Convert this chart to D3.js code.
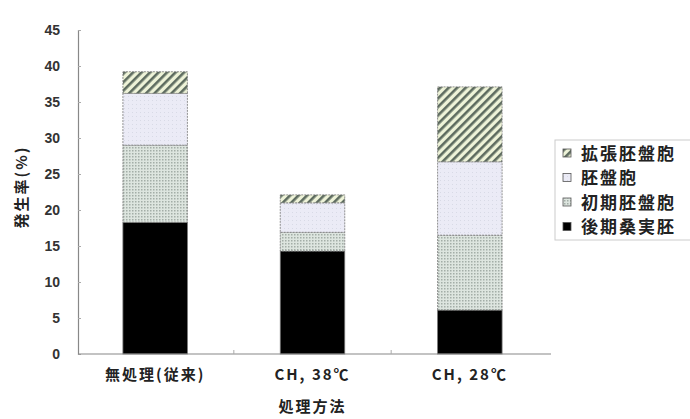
<!DOCTYPE html>
<html><head><meta charset="utf-8">
<script src="https://cdn.jsdelivr.net/npm/d3@7"></script>
<style>body{margin:0;background:#fff;}svg{display:block;font-family:"Noto Sans CJK JP","Noto Sans",sans-serif;}</style>
</head><body><svg id="c" width="690" height="419"></svg>
<script>
const categories = ["無処理(従来)", "CH, 38℃", "CH, 28℃"];
const seriesNames = ["後期桑実胚", "初期胚盤胞", "胚盤胞", "拡張胚盤胞"];
const lateMorula = [18.3, 14.3, 6.1];
const earlyBlast = [10.7, 2.6, 10.4];
const blastocyst = [7.2, 4.1, 10.2];
const expanded = [3.0, 1.1, 10.4];
const yTicks = [0, 5, 10, 15, 20, 25, 30, 35, 40, 45];
const legendOrder = ["拡張胚盤胞", "胚盤胞", "初期胚盤胞", "後期桑実胚"];

const svg = d3.select("#c");
const defs = svg.append("defs");
const pDot = defs.append("pattern").attr("id","dot").attr("width",3).attr("height",3).attr("patternUnits","userSpaceOnUse");
pDot.append("rect").attr("width",3).attr("height",3).attr("fill","#dde5df");
pDot.append("rect").attr("width",1.5).attr("height",1.5).attr("fill","#a3aea7");
const pLav = defs.append("pattern").attr("id","lav").attr("width",4).attr("height",4).attr("patternUnits","userSpaceOnUse");
pLav.append("rect").attr("width",4).attr("height",4).attr("fill","#ebebf6");
pLav.append("rect").attr("width",1).attr("height",1).attr("fill","#d8dae6");
const pHatch = defs.append("pattern").attr("id","hatch").attr("width",6).attr("height",6).attr("patternUnits","userSpaceOnUse").attr("patternTransform","rotate(45)");
pHatch.append("rect").attr("width",6).attr("height",6).attr("fill","#eef3d8");
pHatch.append("rect").attr("width",2.6).attr("height",6).attr("fill","#5d6b5f");

const fills = {"後期桑実胚":"#000","初期胚盤胞":"url(#dot)","胚盤胞":"url(#lav)","拡張胚盤胞":"url(#hatch)"};

const x0 = 78, x1 = 551, yTop = 30, yBot = 354;
const x = d3.scaleBand().domain(categories).range([76.5, 548.5]).paddingInner(0.59).paddingOuter(0.295);
const y = d3.scaleLinear().domain([0,45]).range([yBot, yTop]);

const rows = categories.map((c,i)=>({cat:c,"後期桑実胚":lateMorula[i],"初期胚盤胞":earlyBlast[i],"胚盤胞":blastocyst[i],"拡張胚盤胞":expanded[i]}));
const stack = d3.stack().keys(seriesNames)(rows);

const g = svg.append("g");
stack.forEach(s=>{
  g.selectAll(null).data(s).join("rect")
   .attr("x", d=>x(d.data.cat)).attr("width", x.bandwidth())
   .attr("y", d=>y(d[1])).attr("height", d=>y(d[0])-y(d[1]))
   .attr("fill", fills[s.key]).attr("stroke","#777").attr("stroke-width",0.8)
   .attr("stroke-dasharray", s.key==="後期桑実胚"?null:"2,1");
});

const ya = svg.append("g").attr("transform",`translate(${x0},0)`)
  .call(d3.axisLeft(y).tickValues(yTicks).tickSize(-3).tickPadding(18));
ya.select(".domain").attr("stroke","#888").attr("stroke-width",1.2);
ya.selectAll(".tick line").attr("stroke","#aaa");
ya.selectAll("text").attr("font-size",14).attr("font-weight",700).attr("fill","#333");

svg.append("line").attr("x1",x0).attr("x2",x1).attr("y1",yBot).attr("y2",yBot).attr("stroke","#888").attr("stroke-width",1.2);
const seps = [categories[0],categories[1]].map((c,i)=> (x(c)+x.bandwidth()+x(categories[i+1]))/2);
svg.selectAll(null).data(seps).join("line").attr("x1",d=>d).attr("x2",d=>d).attr("y1",yBot).attr("y2",yBot-4).attr("stroke","#aaa");

svg.selectAll(null).data(categories).join("text")
  .attr("x", d=>x(d)+x.bandwidth()/2).attr("y", 380)
  .attr("text-anchor","middle").attr("font-size",15).attr("font-weight",700)
  .attr("letter-spacing",2).attr("fill","#222").text(d=>d);

svg.append("text").attr("x", x(categories[1])+x.bandwidth()/2).attr("y",412)
  .attr("text-anchor","middle").attr("font-size",15).attr("font-weight",700)
  .attr("letter-spacing",2).attr("fill","#222").text("処理方法");

svg.append("text").attr("transform","translate(27,187) rotate(-90)")
  .attr("text-anchor","middle").attr("font-size",15).attr("font-weight",700)
  .attr("letter-spacing",2).attr("fill","#222").text("発生率(%)");

const lg = svg.append("g").attr("transform","translate(555,140)");
lg.append("rect").attr("width",140).attr("height",100).attr("fill","#fff").attr("stroke","#ccc");
legendOrder.forEach((k,i)=>{
  const yy = 13 + i*24.5;
  lg.append("rect").attr("x",8).attr("y",yy-4).attr("width",8).attr("height",8)
    .attr("fill",fills[k]).attr("stroke","#555").attr("stroke-width",0.8);
  lg.append("text").attr("x",26).attr("y",yy+6.5).attr("font-size",17).attr("font-weight",700)
    .attr("letter-spacing",2).attr("fill","#222").text(k);
});
</script></body></html>
